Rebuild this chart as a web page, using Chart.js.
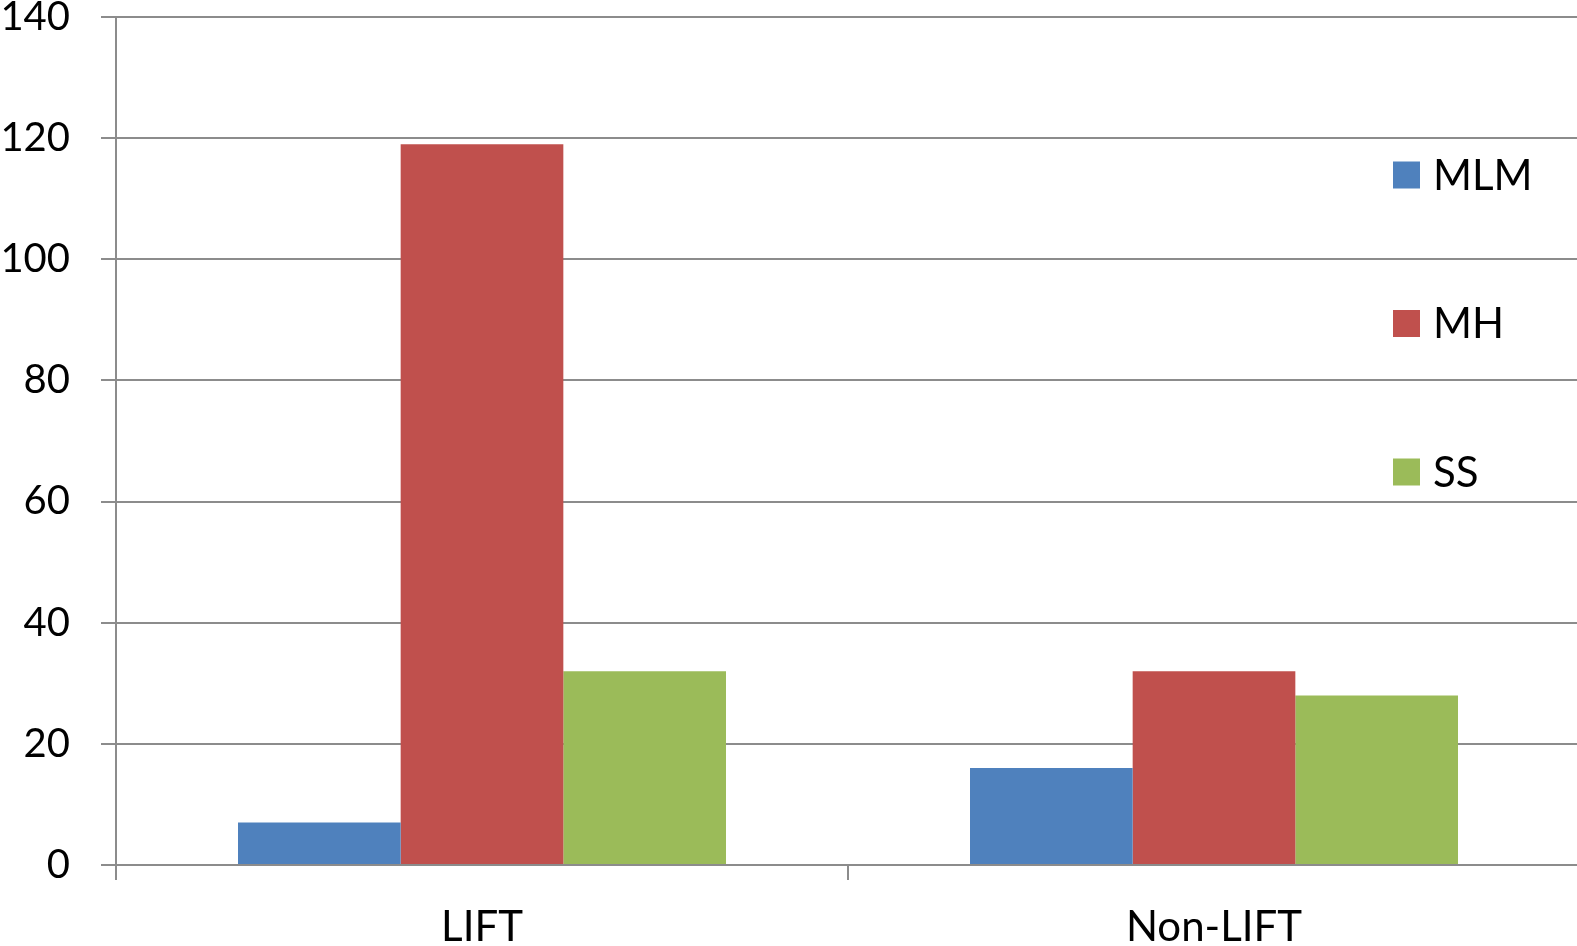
<!DOCTYPE html>
<html>
<head>
<meta charset="utf-8">
<script src="https://cdn.jsdelivr.net/npm/chart.js@4"></script>
<style>
  html, body { margin: 0; padding: 0; background: #ffffff; overflow: hidden; }
  #wrap { position: relative; width: 1580px; height: 946px; }
</style>
</head>
<body>
<div id="wrap"><canvas id="c"></canvas></div>
<script>
// Categories, series and axis ticks
const categories = ['LIFT', 'Non-LIFT'];
const seriesNames = ['MLM', 'MH', 'SS'];
const mlmValues = [7, 16];
const mhValues = [119, 32];
const ssValues = [32, 28];
const seriesColors = ['#4F81BD', '#C0504D', '#9BBB59'];
const yTicks = [0, 20, 40, 60, 80, 100, 120, 140];

const FONT = 'Lato, "Open Sans", sans-serif';
const GRID = '#8c8c8c';

// Legend drawn inside the plot area, stacked vertically on the right
const sideLegend = {
  id: 'sideLegend',
  afterDraw(chart) {
    const ctx = chart.ctx;
    const boxX = 1393, box = 27, gap = 13;
    const firstY = 175, step = 148.5;
    ctx.save();
    ctx.font = '42px ' + FONT;
    ctx.textBaseline = 'middle';
    ctx.textAlign = 'left';
    chart.data.datasets.forEach((ds, i) => {
      const cy = firstY + i * step;
      ctx.fillStyle = ds.backgroundColor;
      ctx.fillRect(boxX, cy - box / 2, box, box);
      ctx.fillStyle = '#000000';
      ctx.fillText(ds.label, boxX + box + gap, cy + 1);
    });
    ctx.restore();
  }
};

const valueSets = [mlmValues, mhValues, ssValues];

new Chart(document.getElementById('c'), {
  type: 'bar',
  data: {
    labels: categories,
    datasets: seriesNames.map((name, i) => ({
      label: name,
      data: valueSets[i],
      backgroundColor: seriesColors[i],
      borderWidth: 0,
      categoryPercentage: 2 / 3,
      barPercentage: 1.0
    }))
  },
  options: {
    responsive: true,
    maintainAspectRatio: false,
    animation: false,
    layout: { padding: { top: 17, left: 0, right: 0, bottom: 0 } },
    plugins: {
      legend: { display: false },
      tooltip: { enabled: false }
    },
    scales: {
      x: {
        grid: {
          display: true,
          drawOnChartArea: false,
          drawTicks: true,
          tickLength: 15,
          color: GRID,
          lineWidth: 2,
          offset: true
        },
        border: { display: true, color: GRID, width: 2 },
        ticks: {
          color: '#000000',
          font: { family: FONT, size: 42 },
          padding: 22,
          maxRotation: 0
        },
        afterFit(scale) {
          scale.height = 81;
          scale.paddingLeft = 0;
          scale.paddingRight = 0;
        }
      },
      y: {
        min: 0,
        max: 140,
        afterBuildTicks(scale) {
          scale.ticks = yTicks.map(v => ({ value: v }));
        },
        grid: {
          color: GRID,
          lineWidth: 2,
          drawTicks: true,
          tickLength: 15
        },
        border: { display: true, color: GRID, width: 2 },
        ticks: {
          color: '#000000',
          font: { family: FONT, size: 40 },
          padding: 31
        },
        afterFit(scale) {
          scale.width = 116;
          scale.paddingTop = 0;
          scale.paddingBottom = 0;
        }
      }
    }
  },
  plugins: [sideLegend]
});
</script>
</body>
</html>
